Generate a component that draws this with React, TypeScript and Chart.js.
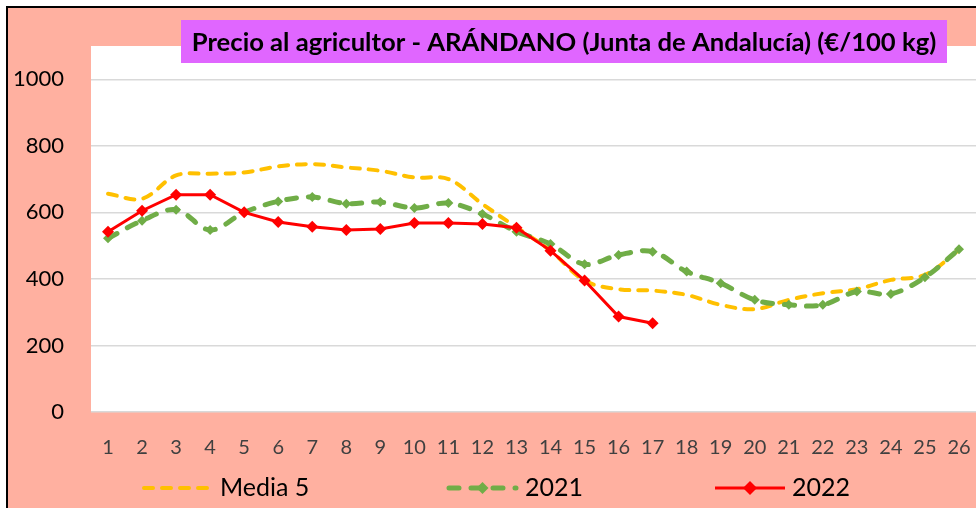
import { useEffect, useRef } from 'react';
import { Chart, registerables } from 'chart.js';

Chart.register(...registerables);

const TITLE = 'Precio al agricultor - ARÁNDANO (Junta de Andalucía) (€/100 kg)';
const weeks = ['1','2','3','4','5','6','7','8','9','10','11','12','13','14','15','16','17','18','19','20','21','22','23','24','25','26'];
const media5 = [656, 641, 711, 716, 720, 738, 745, 735, 725, 705, 700, 625, 555, 485, 395, 369, 365, 352, 322, 309, 337, 357, 369, 397, 412, 487];
const y2021 = [522, 575, 608, 547, 600, 633, 646, 626, 631, 613, 628, 595, 542, 505, 444, 472, 482, 422, 387, 337, 322, 322, 362, 355, 405, 489];
const y2022 = [542, 605, 653, 653, 600, 571, 557, 547, 550, 568, 568, 565, 554, 485, 395, 287, 267];
const yTicks = [0, 200, 400, 600, 800, 1000];

const FONT = 'Lato, "Open Sans", sans-serif';
const YELLOW = '#FFC000';
const GREEN = '#70AD47';
const RED = '#FF0000';

const bgPlugin = {
  id: 'bgPlugin',
  beforeDraw(chart: any) {
    const { ctx, chartArea } = chart;
    ctx.save();
    ctx.fillStyle = '#FFFFFF';
    ctx.fillRect(chartArea.left, chartArea.top, chartArea.right - chartArea.left + 10, chartArea.bottom - chartArea.top);
    ctx.restore();
  },
};

const titlePlugin = {
  id: 'titlePlugin',
  afterDraw(chart: any) {
    const ctx = chart.ctx;
    ctx.save();
    ctx.fillStyle = '#E066FF';
    ctx.fillRect(181, 20, 766, 43);
    let size = 24;
    ctx.font = `bold ${size}px ${FONT}`;
    const w = ctx.measureText(TITLE).width;
    size = size * 745 / w;
    ctx.font = `bold ${size}px ${FONT}`;
    ctx.fillStyle = '#000';
    ctx.textAlign = 'center';
    ctx.textBaseline = 'middle';
    ctx.fillText(TITLE, 564, 43);
    ctx.restore();
  },
};

function diamond(ctx: CanvasRenderingContext2D, x: number, y: number, r: number, color: string) {
  ctx.beginPath();
  ctx.moveTo(x, y - r);
  ctx.lineTo(x + r, y);
  ctx.lineTo(x, y + r);
  ctx.lineTo(x - r, y);
  ctx.closePath();
  ctx.fillStyle = color;
  ctx.fill();
}

const legendPlugin = {
  id: 'legendPlugin',
  afterDraw(chart: any) {
    const ctx = chart.ctx as CanvasRenderingContext2D;
    const ds = chart.data.datasets;
    const y = 488;
    const items = [
      { x0: 142, x1: 211, tx: 220, i: 0 },
      { x0: 447, x1: 518, tx: 525, i: 1 },
      { x0: 715, x1: 785, tx: 792, i: 2 },
    ];
    ctx.save();
    for (const it of items) {
      const d = ds[it.i];
      ctx.strokeStyle = d.borderColor;
      ctx.lineWidth = d.borderWidth;
      ctx.lineCap = d.borderCapStyle || 'butt';
      ctx.setLineDash(d.borderDash || []);
      ctx.beginPath();
      ctx.moveTo(it.x0 + (d.borderCapStyle === 'round' ? 2 : 0), y);
      ctx.lineTo(it.x1 - (d.borderCapStyle === 'round' ? 2 : 0), y);
      ctx.stroke();
      ctx.setLineDash([]);
      if (d.pointRadius > 0) diamond(ctx, (it.x0 + it.x1) / 2, y, d.pointRadius + 1, d.pointBackgroundColor);
      ctx.fillStyle = '#000';
      ctx.font = `25px ${FONT}`;
      ctx.textAlign = 'left';
      ctx.textBaseline = 'middle';
      ctx.fillText(d.label, it.tx, y);
    }
    ctx.restore();
  },
};

export default function App() {
  const ref = useRef<HTMLCanvasElement>(null);
  useEffect(() => {
    document.body.style.margin = '0';
    const chart = new Chart(ref.current!, {
      type: 'line',
      data: {
        labels: weeks,
        datasets: [
          {
            label: 'Media 5',
            data: media5,
            borderColor: YELLOW,
            backgroundColor: YELLOW,
            borderWidth: 4,
            borderDash: [9, 9],
            borderCapStyle: 'round',
            pointRadius: 0,
            pointBackgroundColor: YELLOW,
            tension: 0.35,
            order: 2,
          },
          {
            label: '2021',
            data: y2021,
            borderColor: GREEN,
            backgroundColor: GREEN,
            borderWidth: 5,
            borderDash: [10, 12],
            borderCapStyle: 'round',
            pointStyle: 'rectRot',
            pointRadius: 5,
            pointBackgroundColor: GREEN,
            pointBorderColor: GREEN,
            pointBorderWidth: 0,
            tension: 0.35,
            order: 1,
          },
          {
            label: '2022',
            data: y2022,
            borderColor: RED,
            backgroundColor: RED,
            borderWidth: 3,
            pointStyle: 'rectRot',
            pointRadius: 6,
            pointBackgroundColor: RED,
            pointBorderColor: RED,
            pointBorderWidth: 0,
            tension: 0,
            order: 0,
          },
        ] as any,
      },
      options: {
        animation: false,
        responsive: false,
        layout: { autoPadding: false, padding: { top: 46, left: 0, right: -3, bottom: 0 } },
        plugins: {
          legend: { display: false },
          title: { display: false },
          tooltip: { enabled: false },
        },
        scales: {
          x: {
            offset: true,
            grid: { display: false, drawTicks: true, tickLength: 23 },
            border: { display: false },
            ticks: { color: '#404040', font: { family: FONT, size: 20 }, padding: 1, maxRotation: 0, autoSkip: false },
            afterFit: (s: any) => { s.height = 96; s.paddingLeft = 0; s.paddingRight = 0; },
          },
          y: {
            min: 0,
            max: 1100,
            grid: { color: '#D9D9D9', lineWidth: 1.5, drawTicks: false },
            border: { display: false },
            afterBuildTicks: (s: any) => { s.ticks = yTicks.map((v) => ({ value: v })); },
            ticks: { color: '#000', font: { family: FONT, size: 22 }, padding: 27, callback: (v: any) => String(v) },
            afterFit: (s: any) => { s.width = 91; s.paddingTop = 0; s.paddingBottom = 0; },
          },
        },
      },
      plugins: [bgPlugin, titlePlugin, legendPlugin],
    });
    return () => chart.destroy();
  }, []);
  return (
    <div style={{ position: 'relative', width: 976, height: 508, overflow: 'hidden', background: '#FFFFFF' }}>
      <div style={{ position: 'absolute', left: 6, top: 6, width: 1000, height: 540, border: '2px solid #000', background: '#FFB0A0' }} />
      <canvas ref={ref} width={976} height={508} style={{ position: 'absolute', left: 0, top: 0 }} />
    </div>
  );
}
